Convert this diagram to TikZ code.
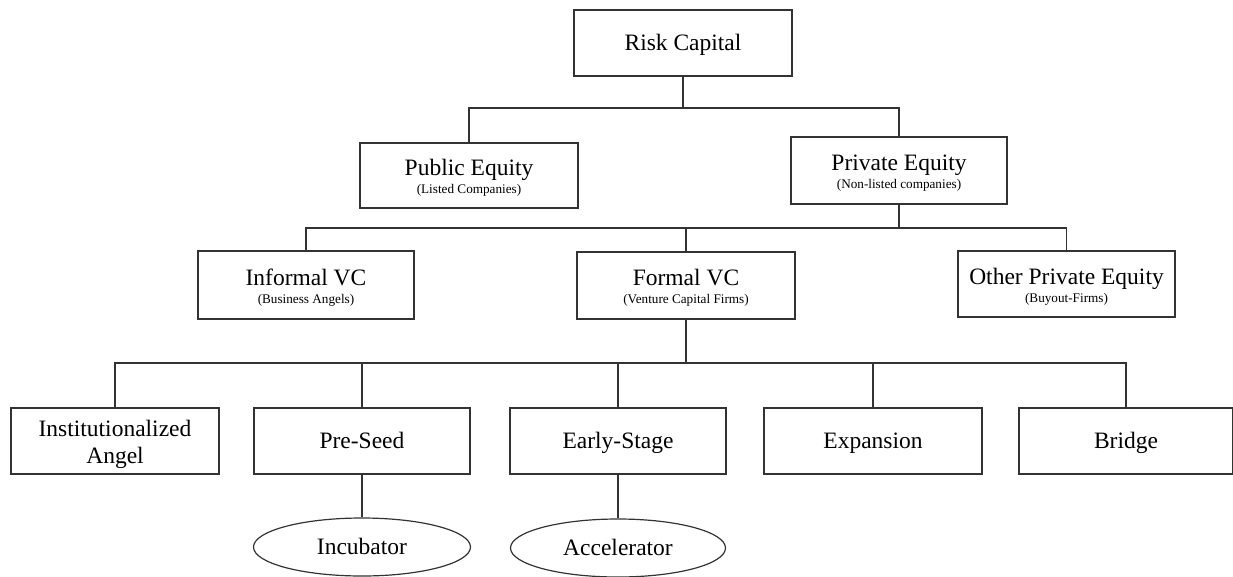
\documentclass[tikz,border=0pt]{standalone}
\usepackage{fontspec}
\setmainfont{Liberation Serif}
\usetikzlibrary{shapes.geometric}
\newcommand{\subtxt}[1]{{\fontsize{13.2}{14}\selectfont #1}}
\begin{document}
\begin{tikzpicture}[x=1pt,y=-1pt,
  conn/.style={draw=black!80, line width=1.2pt},
  bigconn/.style={draw=black!80, line width=1.8pt},
  box/.style={draw=black!80, line width=1.2pt, rectangle, inner sep=0pt,
    minimum width=217pt, minimum height=66pt, align=center,
    font=\fontsize{23.5}{18}\selectfont},
  onebox/.style={box, text height=15.6pt, text depth=0pt},
  twobox/.style={box, text height=36pt, text depth=0pt},
  angelbox/.style={box, font=\fontsize{23.5}{27}\selectfont, text height=44pt, text depth=0pt},
  oval/.style={draw=black!80, line width=1.2pt, ellipse, inner sep=0pt,
    minimum width=216pt, minimum height=58pt,
    font=\fontsize{23.5}{18}\selectfont, text height=15.6pt, text depth=0pt}
]
\useasboundingbox (0,0) rectangle (1233,576);

% level 0
\node[onebox, minimum width=218pt] (risk) at (683,43) {Risk Capital};
% level 1
\node[twobox, minimum width=218pt, minimum height=65pt] (pub) at (469,175.5) {Public Equity\\\subtxt{(Listed Companies)}};
\node[twobox, minimum width=216pt, minimum height=67pt] (priv) at (899,170.5) {Private Equity\\\subtxt{(Non-listed companies)}};
% level 2
\node[twobox, minimum width=216pt, minimum height=68pt] (inf) at (306,285) {Informal VC\\\subtxt{(Business Angels)}};
\node[twobox, minimum width=218pt, minimum height=67pt] (formal) at (686,285.5) {Formal VC\\\subtxt{(Venture Capital Firms)}};
\node[twobox] (other) at (1066.5,284) {Other Private Equity\\\subtxt{(Buyout-Firms)}};
% level 3
\node[angelbox, minimum width=208pt] (inst) at (115,441) {Institutionalized\\Angel};
\node[onebox, minimum width=216pt] (pre) at (362,441) {Pre-Seed};
\node[onebox, minimum width=216pt] (early) at (618,441) {Early-Stage};
\node[onebox, minimum width=218pt] (exp) at (873,441) {Expansion};
\node[onebox, minimum width=214pt] (bridge) at (1126,441) {Bridge};
% level 4
\node[oval, minimum width=217pt] (inc) at (362,547) {Incubator};
\node[oval, minimum width=215pt] (acc) at (618,548) {Accelerator};

% junctions
\coordinate (j1) at (683,108);
\coordinate (j2) at (899,228);
\coordinate (j3) at (686,363);

\draw[bigconn] (risk.south) -- (j1);
\draw[conn] (j1) -| (pub.north);
\draw[conn] (j1) -| (priv.north);

\draw[conn] (priv.south) -- (j2);
\draw[conn] (j2) -| (inf.north);
\draw[conn] (j2) -| (formal.north);
\draw[conn] (j2) -| (other.north);

\draw[bigconn] (formal.south) -- (j3);
\draw[conn] (j3) -| (inst.north);
\draw[conn] (j3) -| (pre.north);
\draw[conn] (j3) -| (early.north);
\draw[conn] (j3) -| (exp.north);
\draw[conn] (j3) -| (bridge.north);

\draw[conn] (pre.south) -- (inc.north);
\draw[conn] (early.south) -- (acc.north);
\end{tikzpicture}
\end{document}
